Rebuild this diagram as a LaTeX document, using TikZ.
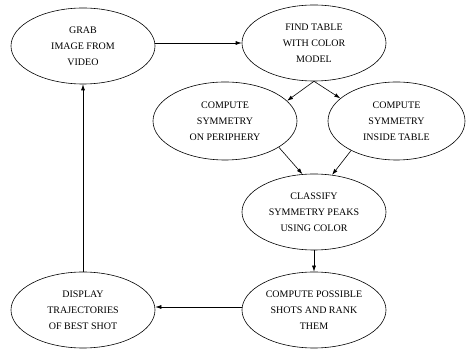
\documentclass[tikz,border=0pt]{standalone}
\usepackage{fontspec}
\setmainfont{Liberation Serif}
\usetikzlibrary{shapes.geometric,arrows.meta}
\begin{document}
\begin{tikzpicture}[x=1pt,y=1pt,
  stage/.style={ellipse,draw,line width=0.6pt,inner sep=0pt,minimum width=144pt,minimum height=76pt,
    align=center,font=\fontsize{10}{16}\selectfont},
  flow/.style={draw,line width=0.6pt,-{Latex[length=6pt,width=4pt]}}]
\useasboundingbox (0,0) rectangle (466,350);
\node[stage] (grab) at (83,304) {GRAB\\IMAGE FROM\\VIDEO};
\node[stage] (find) at (314,307) {FIND TABLE\\WITH COLOR\\MODEL};
\node[stage,minimum height=78pt] (peri) at (225,229) {COMPUTE\\SYMMETRY\\ON PERIPHERY};
\node[stage,minimum width=137pt,minimum height=78pt] (inside) at (396.5,229) {COMPUTE\\SYMMETRY\\INSIDE TABLE};
\node[stage] (classify) at (314,138) {CLASSIFY\\SYMMETRY PEAKS\\USING COLOR};
\node[stage] (possible) at (314,40) {COMPUTE POSSIBLE\\SHOTS AND RANK\\THEM};
\node[stage] (display) at (83,40) {DISPLAY\\TRAJECTORIES\\OF BEST SHOT};
\draw[flow] (grab.east |- find) -- (find.west);
\draw[flow] (find.south) -- (peri.18);
\draw[flow] (find.south) -- (inside.158);
\draw[flow] (peri.-26) -- (classify.107);
\draw[flow] (inside.213) -- (classify.64);
\draw[flow] (classify.south) -- (possible.north);
\draw[flow] (possible.west |- 0,43) -- (display.east |- 0,43);
\draw[flow] (display.north) -- (grab.south);
\end{tikzpicture}
\end{document}
